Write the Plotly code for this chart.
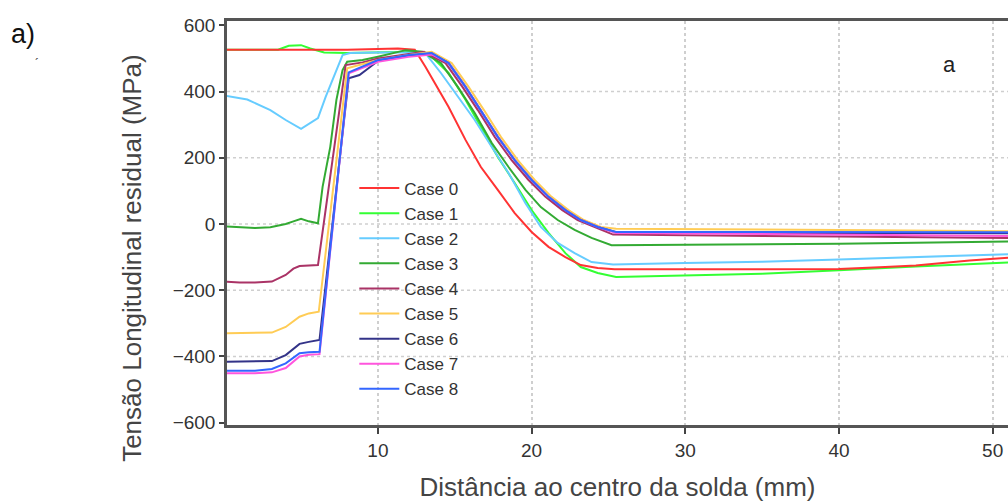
import plotly.graph_objects as go

# Distance from weld centre (mm) and longitudinal residual stress (MPa) per case
case0_x = [0, 2, 5, 8, 11.3, 12.4, 13.1, 13.7, 14.6, 15.7, 16.7, 17.8, 18.9, 20.0, 21.1, 22.2, 23.2, 24.3, 25.4, 30, 35, 40, 43, 45, 48.5, 51]
case0_y = [526, 526, 526, 526, 530, 526, 474, 426, 353, 254, 172, 103, 33, -24, -69, -100, -124, -133, -137, -137, -137, -136, -130, -125, -110, -102]

case1_x = [0, 3.5, 4.2, 5.0, 5.6, 6.5, 8, 10, 12, 13.0, 13.5, 14.6, 15.7, 16.7, 17.8, 18.9, 20.0, 21.1, 22.2, 23.2, 24.3, 25.5, 30, 35, 40, 45, 51]
case1_y = [526, 526, 538, 540, 530, 518, 516, 518, 520, 518, 505, 456, 375, 293, 202, 124, 42, -27, -88, -130, -148, -160, -155, -150, -140, -128, -116]

case2_x = [0, 1.5, 3, 4, 5, 6.1, 6.6, 7.2, 7.7, 8.2, 10, 12.5, 13.1, 14.1, 15.2, 16.3, 17.4, 18.5, 19.6, 20.6, 21.7, 22.8, 23.9, 25.3, 30, 35, 40, 45, 48, 51]
case2_y = [388, 376, 344, 314, 287, 320, 384, 456, 510, 516, 518, 518, 515, 456, 384, 314, 233, 154, 63, -9, -57, -88, -115, -122, -118, -114, -107, -100, -95, -91]

case3_x = [0, 2, 3, 4, 4.5, 5, 5.5, 6.1, 6.4, 6.9, 7.3, 7.7, 8.0, 9, 10, 11.8, 12.9, 14.1, 15.2, 16.3, 17.4, 18.5, 19.6, 20.6, 21.7, 22.8, 23.9, 25.2, 30, 35, 40, 45, 51]
case3_y = [-7, -12, -10, 0, 8, 16, 8, 2, 112, 233, 375, 465, 490, 495, 505, 525, 520, 486, 414, 335, 245, 172, 103, 51, 12, -18, -42, -64, -63, -62, -60, -57, -53]

case4_x = [0, 1, 2, 3.1, 4, 4.5, 4.9, 6.1, 7.9, 9, 10, 11.8, 13, 14.4, 15.5, 16.5, 17.6, 18.7, 19.8, 20.9, 22.0, 23.0, 24.1, 25.3, 30, 35, 40, 51]
case4_y = [-174, -177, -177, -174, -154, -135, -127, -124, 480, 488, 500, 512, 520, 486, 414, 344, 263, 193, 133, 82, 42, 12, -9, -32, -34, -37, -38, -42]

case5_x = [0, 1, 2, 3.1, 4, 4.9, 5.5, 6.15, 8.0, 10, 12, 13.5, 14.8, 15.9, 16.9, 18.0, 19.1, 20.2, 21.3, 22.4, 23.4, 24.5, 25.5, 30, 40, 51]
case5_y = [-330, -330, -330, -328, -311, -280, -270, -265, 470, 495, 510, 520, 486, 414, 344, 263, 193, 133, 82, 42, 12, -9, -14, -15, -18, -22]

case6_x = [0, 1, 2, 3.1, 4, 4.9, 5.5, 6.2, 8.1, 8.8, 10, 12, 13.5, 14.6, 15.7, 16.7, 17.8, 18.9, 20.0, 21.1, 22.2, 23.2, 24.3, 25.5, 35, 51]
case6_y = [-416, -416, -416, -414, -396, -362, -356, -350, 440, 450, 492, 508, 515, 486, 414, 344, 263, 193, 133, 82, 42, 12, -9, -25, -27, -28]

case7_x = [0, 1, 2, 3.1, 4, 4.9, 5.5, 6.2, 8.1, 10, 12, 13.5, 14.6, 15.7, 16.7, 17.8, 18.9, 20.0, 21.1, 22.2, 23.2, 24.3, 25.5, 40, 51]
case7_y = [-451, -451, -451, -448, -435, -400, -395, -393, 455, 490, 505, 512, 486, 414, 344, 263, 193, 133, 82, 42, 12, -9, -27, -32, -36]

case8_x = [0, 1, 2, 3.1, 4, 4.9, 5.5, 6.2, 8.1, 10, 12, 13.5, 14.6, 15.7, 16.7, 17.8, 18.9, 20.0, 21.1, 22.2, 23.2, 24.3, 25.5, 51]
case8_y = [-443, -443, -443, -438, -421, -390, -387, -386, 458, 495, 510, 516, 486, 414, 344, 263, 193, 133, 82, 42, 12, -9, -24, -25]

case_names = ["Case 0", "Case 1", "Case 2", "Case 3", "Case 4", "Case 5", "Case 6", "Case 7", "Case 8"]
case_colors = ["#ff3333", "#33ff33", "#66ccff", "#33aa33", "#aa3366", "#ffcc55", "#333388", "#ff55dd", "#3366ff"]
case_xs = [case0_x, case1_x, case2_x, case3_x, case4_x, case5_x, case6_x, case7_x, case8_x]
case_ys = [case0_y, case1_y, case2_y, case3_y, case4_y, case5_y, case6_y, case7_y, case8_y]

x_ticks = [10, 20, 30, 40, 50]
y_ticks = [-600, -400, -200, 0, 200, 400, 600]
y_grid = [-400, -200, 0, 200, 400]

FONT = "Liberation Sans, Arial, sans-serif"

fig = go.Figure()
# red drawn after bright green so it sits on top along the shared plateau
draw_order = [1, 0, 2, 3, 4, 5, 6, 7, 8]
for i in draw_order:
    fig.add_trace(go.Scatter(
        x=case_xs[i], y=case_ys[i], mode="lines", name=case_names[i],
        line=dict(color=case_colors[i], width=2), legendrank=i + 1,
    ))

# horizontal dotted grid at the interior stress ticks
grid_shapes = [
    dict(type="line", xref="paper", x0=0, x1=1, yref="y", y0=v, y1=v,
         line=dict(color="#cfcfcf", width=1.5, dash="dot"), layer="below")
    for v in y_grid
]

axis_font = dict(family=FONT, size=19, color="#333333")
title_font = dict(family=FONT, size=26, color="#444444")

fig.update_layout(
    width=1008, height=502,
    margin=dict(l=227, r=0, t=21, b=77),
    paper_bgcolor="white", plot_bgcolor="white",
    showlegend=True,
    legend=dict(
        x=0.163, y=0.63, xanchor="left", yanchor="top",
        bgcolor="rgba(0,0,0,0)", borderwidth=0,
        font=dict(family=FONT, size=17, color="#333333"),
        tracegroupgap=0, itemwidth=40,
    ),
    xaxis=dict(
        range=[0.18, 51.0], tickvals=x_ticks, ticks="outside", ticklen=6, tickwidth=2,
        tickcolor="#444444", showline=True, linecolor="#555555", linewidth=2.5, mirror=True,
        showgrid=True, gridcolor="#cfcfcf", griddash="dot", gridwidth=1.5,
        zeroline=False, tickfont=axis_font,
        title=dict(text="Distância ao centro da solda (mm)", font=title_font, standoff=20),
    ),
    yaxis=dict(
        range=[-607, 613], tickvals=y_ticks, ticks="outside", ticklen=5, tickwidth=2,
        tickcolor="#444444", showline=True, linecolor="#555555", linewidth=2.5, mirror=False,
        showgrid=False, zeroline=False, tickfont=axis_font,
    ),
    shapes=grid_shapes,
    annotations=[
        dict(text="Tensão Longitudinal residual (MPa)", textangle=-90,
             xref="paper", yref="paper", x=-0.121, y=0.415, xanchor="center", yanchor="middle",
             showarrow=False, font=title_font),
        dict(text="a)", xref="paper", yref="paper", x=-0.279, y=1.01, xanchor="left", yanchor="top",
             showarrow=False, font=dict(family=FONT, size=27, color="#111111")),
        dict(text="´", xref="paper", yref="paper", x=-0.249, y=0.915, xanchor="left", yanchor="top",
             showarrow=False, font=dict(family=FONT, size=12, color="#333333")),
        dict(text="a", xref="x", yref="y", x=47.2, y=483, showarrow=False,
             font=dict(family=FONT, size=22, color="#222222")),
    ],
)

fig.write_html("out.html")
